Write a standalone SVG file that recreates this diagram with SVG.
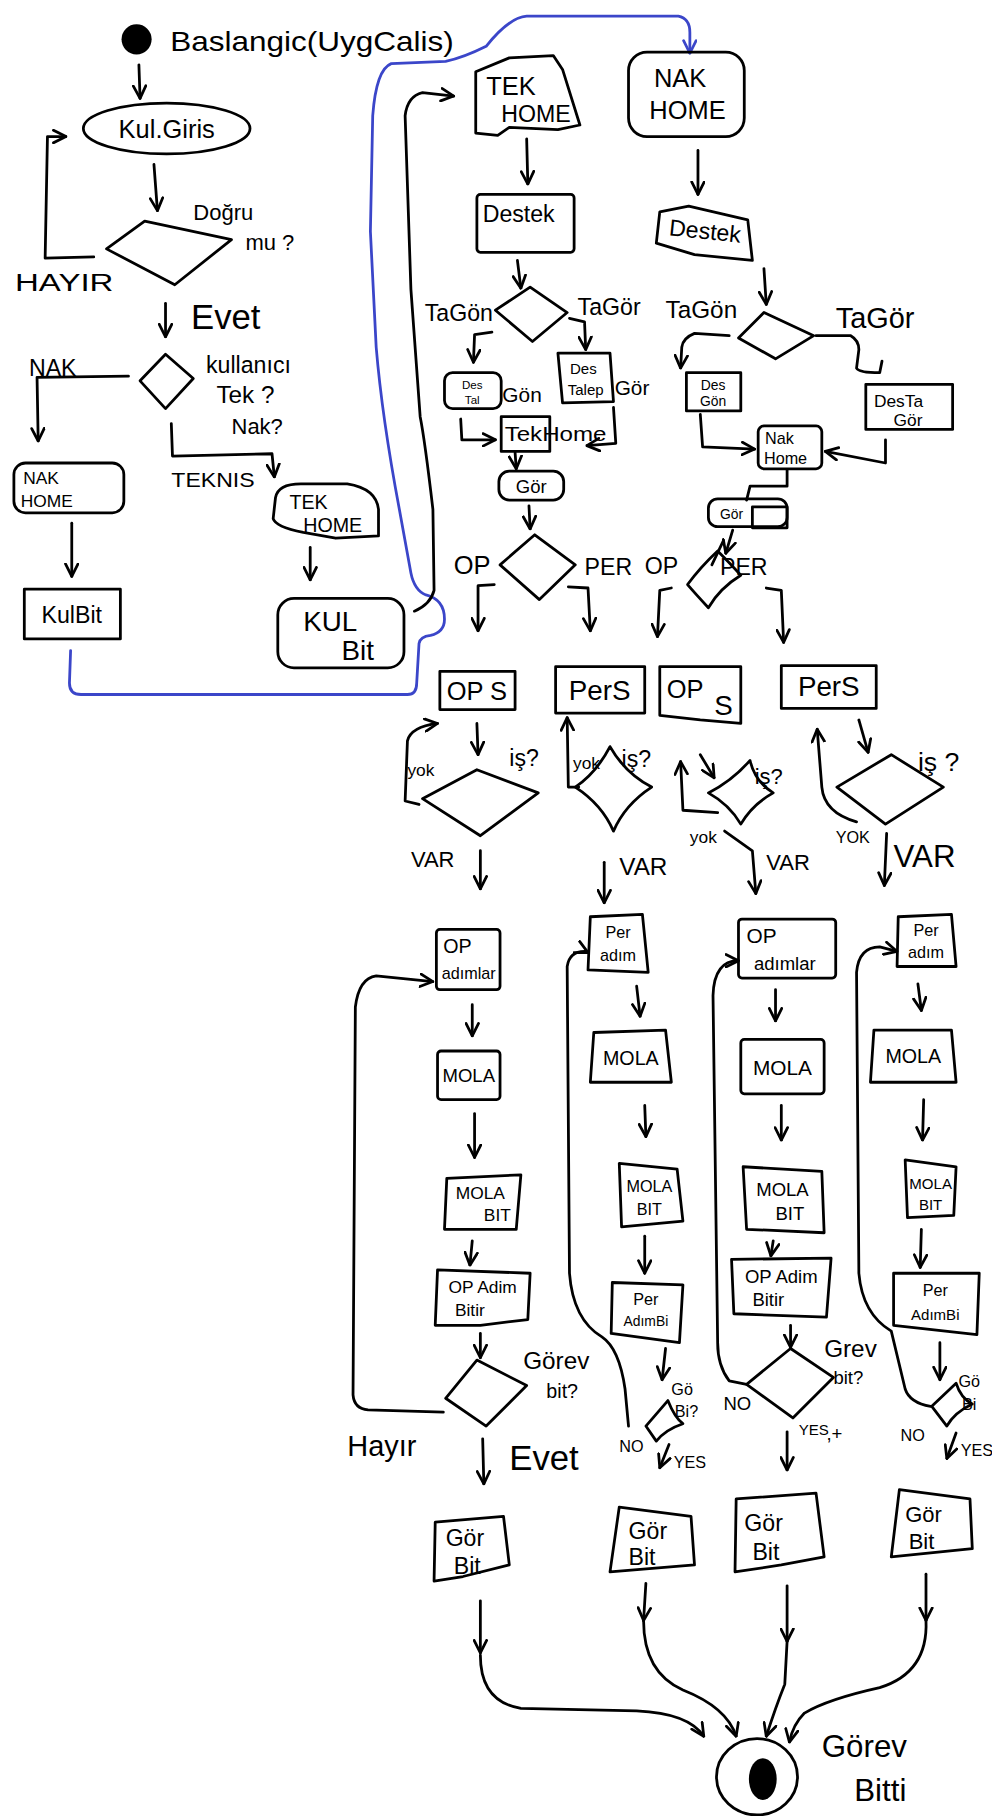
<svg xmlns="http://www.w3.org/2000/svg" width="992" height="1816" viewBox="0 0 992 1816">
<style>
.s{fill:none;stroke:#000;stroke-width:2.4;stroke-linecap:round;stroke-linejoin:round}
.bl{fill:none;stroke:#3b46c9;stroke-width:2.4;stroke-linecap:round;stroke-linejoin:round}
.a{marker-end:url(#ah)}
.t{font-family:"Liberation Sans","DejaVu Sans",sans-serif;fill:#000}
.m{text-anchor:middle}
</style>
<defs>
<marker id="ah" viewBox="0 0 12 12" refX="11" refY="6" markerWidth="13" markerHeight="13" markerUnits="userSpaceOnUse" orient="auto">
<path d="M1,1 L11,6 L1,11" fill="none" stroke="#000" stroke-width="2.2" stroke-linecap="round" stroke-linejoin="round"/>
</marker>
<marker id="ahb" viewBox="0 0 12 12" refX="11" refY="6" markerWidth="13" markerHeight="13" markerUnits="userSpaceOnUse" orient="auto">
<path d="M1,1 L11,6 L1,11" fill="none" stroke="#3b46c9" stroke-width="2.2" stroke-linecap="round" stroke-linejoin="round"/>
</marker>
</defs>
<rect width="992" height="1816" fill="#fff"/>
<g transform="scale(1.1575)">

<!-- connectors -->
<g id="connectors">
<path class="s a" d="M120,56 L121,85"/>
<path class="s a" d="M133,142 L136,182"/>
<path class="s a" d="M81,222 L39,223 L41,118 L57,118"/>
<path class="s a" d="M143,262 L143,291"/>
<path class="s a" d="M111,325 L32,326 L33,381"/>
<path class="s a" d="M148,366 L149,394 L235,392 L237,412"/>
<path class="s a" d="M62,452 L62,498"/>
<path class="s a" d="M268,473 L268,501"/>
<path class="bl" style="marker-end:url(#ahb)" d="M61,562 L60,590 Q60,600 70,600 L352,600 Q360,600 360,590 L362,556 Q363,550 372,549 Q384,546 384,535 Q384,518 368,514 Q358,510 355,495 L345,440 Q330,360 325,300 L320,200 L322,100 Q325,60 338,55 L385,53 Q400,50 420,40 Q440,15 455,14 L586,14 Q596,16 596,28 L596,46"/>
<path class="s a" d="M358,528 Q372,522 375,510 L374,440 Q367,380 363,360 L355,250 L350,100 Q352,83 365,80 L392,83"/>
<path class="s a" d="M455,120 L456,159"/>
<path class="s a" d="M603,130 L603,168"/>
<path class="s a" d="M447,225 L450,249"/>
<path class="s a" d="M660,232 L662,263"/>
<path class="s a" d="M425,287 L410,289 L409,313"/>
<path class="s a" d="M492,275 L505,278 L506,302"/>
<path class="s a" d="M398,362 L399,380 L428,380"/>
<path class="s a" d="M530,352 L532,383 L507,385"/>
<path class="s a" d="M445,391 L446,405"/>
<path class="s a" d="M457,437 L458,457"/>
<path class="s a" d="M630,290 L600,288 Q590,292 589,300 L588,318"/>
<path class="s a" d="M605,358 L607,386 L652,388"/>
<path class="s" d="M705,290 L735,290 Q742,294 742,302 L740,318 Q742,322 760,322 L762,312"/>
<path class="s a" d="M765,380 L765,400 L713,390"/>
<path class="s" d="M680,406 L680,420 L648,420 L645,432"/>
<path class="s a" d="M633,458 L627,478"/>
<path class="s a" d="M427,505 L413,506 L413,545"/>
<path class="s a" d="M491,507 L508,508 L510,545"/>
<path class="s a" d="M580,508 L570,510 L568,550"/>
<path class="s a" d="M662,508 L675,510 L677,555"/>
<path class="s a" d="M412,625 L413,652"/>
<path class="s a" d="M362,695 L350,692 L352,640 Q355,628 378,625"/>
<path class="s a" d="M415,735 L415,768"/>
<path class="s a" d="M500,680 L491,680 L490,620"/>
<path class="s a" d="M522,745 L522,780"/>
<path class="s a" d="M605,652 L617,672"/>
<path class="s a" d="M620,702 L590,700 L588,658"/>
<path class="s a" d="M626,718 L650,735 L653,772"/>
<path class="s a" d="M742,622 L750,650"/>
<path class="s a" d="M740,710 Q712,702 710,680 L706,630"/>
<path class="s a" d="M766,720 L764,765"/>
<!-- column 1 -->
<path class="s a" d="M383,1220 L318,1218 Q306,1217 305,1205 L307,870 Q310,845 325,843 L374,848"/>
<path class="s a" d="M408,868 L408,895"/>
<path class="s a" d="M410,962 L410,1000"/>
<path class="s a" d="M408,1072 L406,1093"/>
<path class="s a" d="M415,1152 L415,1173"/>
<path class="s a" d="M417,1243 L418,1282"/>
<path class="s a" d="M415,1383 L415,1428"/>
<path class="s a" d="M415,1430 Q415,1470 450,1476 L550,1478 Q595,1480 608,1500"/>
<!-- column 2 -->
<path class="s a" d="M543,1232 L540,1200 Q535,1165 520,1155 Q495,1140 492,1100 L490,835 Q492,822 505,822 L506,822 L508,823"/>
<path class="s a" d="M550,852 L553,878"/>
<path class="s a" d="M557,955 L558,982"/>
<path class="s a" d="M557,1068 L557,1100"/>
<path class="s a" d="M575,1165 L572,1192"/>
<path class="s a" d="M578,1248 L570,1268"/>
<path class="s a" d="M558,1368 L556,1400"/>
<path class="s a" d="M556,1400 Q556,1445 590,1460 Q628,1475 636,1500"/>
<!-- column 3 -->
<path class="s a" d="M645,1196 L630,1193 Q620,1180 620,1160 L616,860 Q617,830 638,830"/>
<path class="s a" d="M670,855 L670,882"/>
<path class="s a" d="M675,955 L675,985"/>
<path class="s a" d="M668,1072 L666,1085"/>
<path class="s a" d="M683,1145 L683,1164"/>
<path class="s a" d="M680,1237 L680,1270"/>
<path class="s a" d="M680,1370 L680,1418"/>
<path class="s a" d="M680,1418 L678,1455 Q670,1475 662,1500"/>
<!-- column 4 -->
<path class="s a" d="M804,1215 Q786,1212 782,1200 L770,1150 Q745,1135 742,1100 L740,840 Q742,818 760,818 L775,822"/>
<path class="s a" d="M793,850 L796,873"/>
<path class="s a" d="M798,950 L797,985"/>
<path class="s a" d="M796,1062 L795,1095"/>
<path class="s a" d="M812,1160 L812,1192"/>
<path class="s a" d="M826,1238 L818,1260"/>
<path class="s a" d="M800,1360 L800,1400"/>
<path class="s a" d="M800,1400 Q802,1445 760,1458 Q715,1468 695,1480 Q685,1490 682,1505"/>
</g>

<!-- start -->
<g id="start">
<circle cx="118" cy="34" r="13" fill="#000"/>
<text class="t" x="147" y="44" font-size="24" textLength="245" lengthAdjust="spacingAndGlyphs">Baslangic(UygCalis)</text>
</g>
<g id="kulgiris">
<ellipse class="s" cx="144" cy="111" rx="72" ry="22"/>
<text class="t m" x="144" y="119" font-size="22">Kul.Giris</text>
</g>
<g id="dogru">
<path class="s" d="M92,215 L125,191 L200,207 L151,246 Z"/>
<text class="t" x="167" y="190" font-size="19">Doğru</text>
<text class="t" x="212" y="216" font-size="19">mu ?</text>
<text class="t" x="13" y="251" font-size="21" textLength="85" lengthAdjust="spacingAndGlyphs">HAYIR</text>
<text class="t" x="165" y="284" font-size="30">Evet</text>
</g>
<g id="kullanici">
<path class="s" d="M121,329 L143,306 L167,327 L143,353 Z"/>
<text class="t" x="178" y="322" font-size="20">kullanıcı</text>
<text class="t" x="187" y="348" font-size="21">Tek ?</text>
<text class="t" x="200" y="375" font-size="19">Nak?</text>
<text class="t" x="25" y="325" font-size="20">NAK</text>
<text class="t" x="148" y="421" font-size="18" textLength="72" lengthAdjust="spacingAndGlyphs">TEKNIS</text>
</g>
<g id="nakhome-l">
<rect class="s" x="12" y="400" width="95" height="43" rx="10"/>
<text class="t" x="20" y="418" font-size="15">NAK</text>
<text class="t" x="18" y="438" font-size="15">HOME</text>
</g>
<g id="kulbit-l">
<rect class="s" x="21" y="509" width="83" height="43"/>
<text class="t m" x="62" y="538" font-size="20">KulBit</text>
</g>
<g id="tekhome-l">
<path class="s" d="M238,430 Q240,418 260,418 L300,418 Q325,422 327,440 L327,463 L290,465 L262,460 Q238,455 236,448 Z"/>
<text class="t" x="250" y="440" font-size="17">TEK</text>
<text class="t" x="262" y="460" font-size="17">HOME</text>
</g>
<g id="kulbit-r">
<rect class="s" x="240" y="517" width="109" height="60" rx="14"/>
<text class="t" x="262" y="545" font-size="24">KUL</text>
<text class="t" x="295" y="570" font-size="24">Bit</text>
</g>
<g id="tekhome-r">
<path class="s" d="M411,62 L440,50 L478,48 L486,60 L501,108 L482,112 L440,110 L430,117 L411,115 Z"/>
<text class="t" x="420" y="82" font-size="22">TEK</text>
<text class="t" x="433" y="105" font-size="20">HOME</text>
</g>
<g id="nakhome-r">
<rect class="s" x="543" y="45" width="100" height="73" rx="16"/>
<text class="t" x="565" y="75" font-size="22">NAK</text>
<text class="t" x="561" y="103" font-size="22">HOME</text>
</g>
<g id="destek-l">
<rect class="s" x="412" y="168" width="84" height="50" rx="3"/>
<text class="t" x="417" y="192" font-size="20">Destek</text>
</g>
<g id="destek-r">
<path class="s" d="M570,183 L595,178 L646,190 L650,225 L600,220 L567,210 Z"/>
<text class="t" x="578" y="206" font-size="20" transform="rotate(6 605 200)">Destek</text>
</g>
<g id="tagon-l">
<path class="s" d="M428,268 L458,248 L490,270 L460,295 Z"/>
<text class="t" x="367" y="277" font-size="20">TaGön</text>
<text class="t" x="499" y="272" font-size="20">TaGör</text>
</g>
<g id="tagon-r">
<path class="s" d="M638,292 L660,270 L703,290 L670,310 Z"/>
<text class="t" x="575" y="275" font-size="21">TaGön</text>
<text class="t" x="722" y="283" font-size="25">TaGör</text>
</g>
<g id="destal">
<rect class="s" x="384" y="322" width="49" height="31" rx="7"/>
<text class="t m" x="408" y="336" font-size="10">Des</text>
<text class="t m" x="408" y="349" font-size="10">Tal</text>
<text class="t" x="434" y="347" font-size="18">Gön</text>
</g>
<g id="destalep">
<path class="s" d="M482,305 L527,305 L530,347 L486,348 Z"/>
<text class="t m" x="504" y="323" font-size="13">Des</text>
<text class="t m" x="506" y="341" font-size="13">Talep</text>
<text class="t" x="531" y="341" font-size="18">Gör</text>
</g>
<g id="tekhome-s">
<rect class="s" x="433" y="360" width="42" height="30"/>
<text class="t" x="436" y="381" font-size="17" textLength="88" lengthAdjust="spacingAndGlyphs">TekHome</text>
</g>
<g id="gor-l">
<rect class="s" x="431" y="407" width="56" height="25" rx="9"/>
<text class="t m" x="459" y="426" font-size="16">Gör</text>
</g>
<g id="oper-l">
<path class="s" d="M432,488 L462,462 L497,488 L466,518 Z"/>
<text class="t" x="392" y="496" font-size="22">OP</text>
<text class="t" x="505" y="497" font-size="20">PER</text>
</g>
<g id="desgon">
<rect class="s" x="593" y="322" width="47" height="33"/>
<text class="t m" x="616" y="337" font-size="12">Des</text>
<text class="t m" x="616" y="351" font-size="12">Gön</text>
</g>
<g id="destagor">
<rect class="s" x="748" y="332" width="75" height="39"/>
<text class="t" x="755" y="352" font-size="15">DesTa</text>
<text class="t" x="772" y="368" font-size="15">Gör</text>
</g>
<g id="nakhome-s">
<rect class="s" x="655" y="368" width="55" height="37" rx="5"/>
<text class="t" x="661" y="384" font-size="14">Nak</text>
<text class="t" x="660" y="401" font-size="14">Home</text>
</g>
<g id="gor-r">
<rect class="s" x="612" y="431" width="68" height="24" rx="8"/>
<rect class="s" x="650" y="438" width="30" height="18"/>
<text class="t" x="622" y="448" font-size="12">Gör</text>
</g>
<g id="oper-r">
<path class="s" d="M594,505 Q605,490 620,476 Q632,488 640,497 Q622,508 612,525 Q600,512 594,505 Z"/>
<path class="s" d="M625,467 L615,488"/>
<text class="t" x="557" y="496" font-size="20">OP</text>
<text class="t" x="622" y="497" font-size="20">PER</text>
</g>
<g id="ops-1">
<rect class="s" x="380" y="580" width="65" height="33"/>
<text class="t m" x="412" y="605" font-size="22">OP S</text>
</g>
<g id="pers-1">
<rect class="s" x="480" y="576" width="77" height="40"/>
<text class="t m" x="518" y="605" font-size="24">PerS</text>
</g>
<g id="ops-2">
<path class="s" d="M570,576 L640,576 L640,625 L605,622 L570,618 Z"/>
<text class="t" x="576" y="603" font-size="22">OP</text>
<text class="t" x="617" y="618" font-size="24">S</text>
</g>
<g id="pers-2">
<rect class="s" x="675" y="575" width="82" height="37"/>
<text class="t m" x="716" y="601" font-size="24">PerS</text>
</g>
<g id="is-1">
<path class="s" d="M365,690 L412,665 L465,685 L415,722 Z"/>
<text class="t" x="440" y="662" font-size="20">iş?</text>
<text class="t" x="352" y="670" font-size="15">yok</text>
<text class="t" x="355" y="749" font-size="19">VAR</text>
</g>
<g id="is-2">
<path class="s" d="M497,680 Q515,668 527,645 Q540,668 563,680 Q540,695 530,718 Q520,695 497,680 Z"/>
<text class="t" x="537" y="663" font-size="20">iş?</text>
<text class="t" x="495" y="664" font-size="15">yok</text>
<text class="t" x="535" y="756" font-size="21">VAR</text>
</g>
<g id="is-3">
<path class="s" d="M612,685 Q632,675 648,657 Q652,675 668,685 Q650,695 640,712 Q630,695 612,685 Z"/>
<text class="t" x="652" y="677" font-size="19">iş?</text>
<text class="t" x="596" y="728" font-size="15">yok</text>
<text class="t" x="662" y="752" font-size="19">VAR</text>
</g>
<g id="is-4">
<path class="s" d="M723,680 L770,652 L815,680 L765,712 Z"/>
<text class="t" x="793" y="666" font-size="23">iş ?</text>
<text class="t" x="722" y="728" font-size="14">YOK</text>
<text class="t" x="772" y="749" font-size="27">VAR</text>
</g>
<!-- column 1 steps -->
<g id="opadim-1">
<rect class="s" x="377" y="803" width="55" height="52" rx="3"/>
<text class="t" x="383" y="823" font-size="17">OP</text>
<text class="t m" x="405" y="846" font-size="14">adımlar</text>
</g>
<g id="mola-1">
<rect class="s" x="378" y="908" width="54" height="42" rx="3"/>
<text class="t m" x="405" y="935" font-size="16">MOLA</text>
</g>
<g id="molabit-1">
<path class="s" d="M386,1018 L450,1015 L446,1062 L384,1062 Z"/>
<text class="t m" x="415" y="1036" font-size="15">MOLA</text>
<text class="t" x="418" y="1055" font-size="15">BIT</text>
</g>
<g id="opadimbitir-1">
<path class="s" d="M378,1097 L458,1100 L456,1140 L415,1145 L376,1145 Z"/>
<text class="t m" x="417" y="1117" font-size="15">OP Adim</text>
<text class="t" x="393" y="1137" font-size="15">Bitir</text>
</g>
<g id="gorevbit-1">
<path class="s" d="M385,1208 L412,1175 L455,1197 L420,1232 Z"/>
<text class="t" x="452" y="1183" font-size="21">Görev</text>
<text class="t" x="472" y="1208" font-size="17">bit?</text>
<text class="t" x="300" y="1258" font-size="25">Hayır</text>
<text class="t" x="440" y="1270" font-size="30">Evet</text>
</g>
<g id="gorbit-1">
<path class="s" d="M376,1315 L435,1310 L440,1352 L400,1362 L375,1366 Z"/>
<text class="t" x="385" y="1336" font-size="20">Gör</text>
<text class="t" x="392" y="1360" font-size="20">Bit</text>
</g>
<!-- column 2 steps -->
<g id="peradim-2">
<path class="s" d="M510,792 L555,790 L560,840 L508,838 Z"/>
<text class="t m" x="534" y="810" font-size="14">Per</text>
<text class="t m" x="534" y="830" font-size="14">adım</text>
</g>
<g id="mola-2">
<path class="s" d="M513,892 L575,890 L580,935 L510,935 Z"/>
<text class="t m" x="545" y="920" font-size="17">MOLA</text>
</g>
<g id="molabit-2">
<path class="s" d="M535,1005 L585,1010 L590,1055 L537,1060 Z"/>
<text class="t m" x="561" y="1030" font-size="14">MOLA</text>
<text class="t m" x="561" y="1050" font-size="14">BIT</text>
</g>
<g id="peradimbi-2">
<path class="s" d="M529,1108 L590,1110 L587,1160 L528,1152 Z"/>
<text class="t m" x="558" y="1127" font-size="14">Per</text>
<text class="t m" x="558" y="1146" font-size="12">AdımBi</text>
</g>
<g id="gobi-2">
<path class="s" d="M558,1232 L577,1210 Q583,1225 590,1230 Q575,1235 567,1245 Z"/>
<text class="t" x="580" y="1205" font-size="14">Gö</text>
<text class="t" x="583" y="1224" font-size="14">Bi?</text>
<text class="t" x="535" y="1254" font-size="14">NO</text>
<text class="t" x="582" y="1268" font-size="14">YES</text>
</g>
<g id="gorbit-2">
<path class="s" d="M535,1302 L597,1310 L600,1352 L527,1358 Z"/>
<text class="t" x="543" y="1330" font-size="20">Gör</text>
<text class="t" x="543" y="1352" font-size="20">Bit</text>
</g>
<!-- column 3 steps -->
<g id="opadim-3">
<rect class="s" x="638" y="794" width="84" height="51" rx="3"/>
<text class="t" x="645" y="815" font-size="18">OP</text>
<text class="t m" x="678" y="838" font-size="16">adımlar</text>
</g>
<g id="mola-3">
<rect class="s" x="640" y="898" width="72" height="47" rx="3"/>
<text class="t m" x="676" y="929" font-size="18">MOLA</text>
</g>
<g id="molabit-3">
<path class="s" d="M642,1008 L710,1012 L712,1065 L645,1062 Z"/>
<text class="t m" x="676" y="1033" font-size="16">MOLA</text>
<text class="t" x="670" y="1054" font-size="16">BIT</text>
</g>
<g id="opadimbitir-3">
<path class="s" d="M632,1088 L718,1087 L714,1138 L634,1135 Z"/>
<text class="t m" x="675" y="1108" font-size="16">OP Adim</text>
<text class="t" x="650" y="1128" font-size="16">Bitir</text>
</g>
<g id="gorevbit-3">
<path class="s" d="M645,1196 L683,1165 L720,1190 L685,1225 Z"/>
<text class="t" x="712" y="1172" font-size="21">Grev</text>
<text class="t" x="720" y="1196" font-size="16">bit?</text>
<text class="t" x="625" y="1218" font-size="16">NO</text>
<text class="t" x="690" y="1240" font-size="13">YES</text>
<text class="t" x="714" y="1244" font-size="16">,+</text>
</g>
<g id="gorbit-3">
<path class="s" d="M636,1295 L705,1290 L712,1345 L675,1352 L635,1358 Z"/>
<text class="t" x="643" y="1323" font-size="20">Gör</text>
<text class="t" x="650" y="1348" font-size="20">Bit</text>
</g>
<!-- column 4 steps -->
<g id="peradim-4">
<path class="s" d="M776,792 L822,790 L826,835 L775,835 Z"/>
<text class="t m" x="800" y="809" font-size="14">Per</text>
<text class="t m" x="800" y="828" font-size="14">adım</text>
</g>
<g id="mola-4">
<path class="s" d="M755,890 L822,890 L826,935 L752,935 Z"/>
<text class="t m" x="789" y="918" font-size="17">MOLA</text>
</g>
<g id="molabit-4">
<path class="s" d="M782,1002 L826,1008 L824,1050 L784,1052 Z"/>
<text class="t m" x="804" y="1027" font-size="13">MOLA</text>
<text class="t m" x="804" y="1045" font-size="13">BIT</text>
</g>
<g id="peradimbi-4">
<path class="s" d="M772,1100 L846,1100 L844,1153 L772,1145 Z"/>
<text class="t m" x="808" y="1120" font-size="14">Per</text>
<text class="t m" x="808" y="1140" font-size="13">AdımBi</text>
</g>
<g id="gobi-4">
<path class="s" d="M805,1215 L826,1195 Q830,1208 840,1213 Q825,1220 818,1232 Z"/>
<text class="t" x="828" y="1198" font-size="14">Gö</text>
<text class="t" x="831" y="1218" font-size="14">Bi</text>
<text class="t" x="778" y="1245" font-size="14">NO</text>
<text class="t" x="830" y="1258" font-size="14">YES</text>
</g>
<g id="gorbit-4">
<path class="s" d="M777,1287 L838,1295 L840,1338 L770,1345 Z"/>
<text class="t" x="782" y="1315" font-size="19">Gör</text>
<text class="t" x="785" y="1338" font-size="19">Bit</text>
</g>
<!-- end -->
<g id="end">
<ellipse class="s" cx="654" cy="1535" rx="35" ry="33"/>
<ellipse cx="659" cy="1537" rx="12" ry="18" fill="#000"/>
<text class="t" x="710" y="1518" font-size="27">Görev</text>
<text class="t" x="738" y="1556" font-size="27">Bitti</text>
</g>
</g>
</svg>
